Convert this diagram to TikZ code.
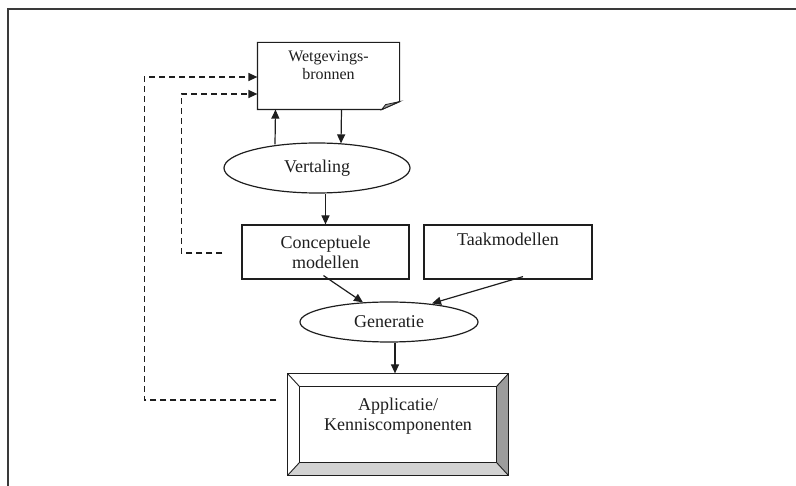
\documentclass[tikz,border=0pt]{standalone}
\usepackage{fontspec}
\setmainfont{Liberation Serif}
\usetikzlibrary{arrows.meta,calc,shapes.geometric}
\definecolor{ink}{HTML}{1E1E1E}
\definecolor{frameink}{HTML}{3A3A3A}
\definecolor{darkface}{HTML}{9C9C9C}
\definecolor{lightface}{HTML}{D2D2D2}
\tikzset{
  arr/.style={line width=1.2pt, draw=ink, -{Triangle[length=9pt,width=8pt]}},
  dasharr/.style={arr, dash pattern=on 6pt off 4pt},
  boxnode/.style={draw=ink, line width=1.2pt, rectangle, align=center, inner sep=0pt,
     font=\fontsize{18}{20}\selectfont, text=ink},
  ellnode/.style={draw=ink, line width=1.2pt, ellipse, inner sep=0pt, align=center,
     font=\fontsize{18}{20}\selectfont, text=ink},
}
\begin{document}
\begin{tikzpicture}[x=1pt,y=-1pt]
\useasboundingbox (0,0) rectangle (796,486);
% frame (top and left edges only)
\draw[line width=1.6pt, frameink] (8,486) -- (8,9) -- (796,9);

% Wetgevingsbronnen (folded-corner sheet)
\node[boxnode, draw=none, minimum width=141pt, minimum height=66pt,
      font=\fontsize{16}{18}\selectfont] (w) at (328.5,76) {Wetgevings-\\bronnen\\[-2pt]\strut};
\draw[line width=1.2pt, ink] (w.north west) -- (w.north east) -- ($(w.south east)+(0,-8)$)
  -- ($(w.south east)+(-18,0)$) -- (w.south west) -- cycle;
\filldraw[line width=0.8pt, draw=ink, fill=darkface] ($(w.south east)+(-18,0)$)
  -- ($(w.south east)+(-14,-5)$) -- ($(w.south east)+(0,-8)$) -- cycle;

% Vertaling
\node[ellnode, minimum width=186pt, minimum height=50pt] (v) at (317,168) {Vertaling};

% Conceptuele modellen, Taakmodellen
\node[boxnode, minimum width=167pt, minimum height=54pt] (c) at (325.5,252) {Conceptuele\\modellen};
\node[boxnode, minimum width=168pt, minimum height=54pt] (t) at (508,252) {Taakmodellen\\\strut};

% Generatie
\node[ellnode, minimum width=178pt, minimum height=40pt] (g) at (389,322) {Generatie};

% Applicatie / Kenniscomponenten (bevelled frame)
\node[boxnode, draw=none, minimum width=220pt, minimum height=101pt] (a) at (398,424.5) {Applicatie/\\Kenniscomponenten\\[-6pt]\strut};
\coordinate (ai1) at ($(a.north west)+(12,13)$);
\coordinate (ai2) at ($(a.north east)+(-12,13)$);
\coordinate (ai3) at ($(a.south east)+(-12,-13)$);
\coordinate (ai4) at ($(a.south west)+(12,-13)$);
\fill[darkface] (a.north east) -- (a.south east) -- (ai3) -- (ai2) -- cycle;
\fill[lightface] (a.south west) -- (a.south east) -- (ai3) -- (ai4) -- cycle;
\draw[line width=1.2pt, ink] (a.north west) rectangle (a.south east);
\draw[line width=1.2pt, ink] (ai1) -- (ai2) -- (ai3) -- (ai4) -- cycle;
\draw[line width=0.9pt, ink] (a.north west) -- (ai1) (a.north east) -- (ai2)
  (a.south east) -- (ai3) (a.south west) -- (ai4);

% solid connectors
\draw[arr] ([xshift=-42pt,yshift=-2pt]v.north) -- ([xshift=-53pt]w.south);
\draw[arr] ([xshift=13pt]w.south) -- ([xshift=24pt,yshift=-1pt]v.north);
\draw[arr] (v.south -| c.north) -- (c.north);
\draw[arr] ($(c.south)+(-2,-4)$) -- ($(g.north)+(-26,1)$);
\draw[arr] ($(t.south)+(15,-3)$) -- ($(g.north)+(43,2)$);
\draw[arr] ($(g.south)+(6,0)$) -- ($(a.north)+(-3,0)$);

% dashed feedback connectors
\coordinate (aout) at ($(a.west)+(-11,-24.5)$);
\coordinate (cout) at ($(c.west)+(-19,1)$);
\draw[dasharr] (aout) -- ++(-132,0) |- ($(w.west)+(0,1)$);
\draw[dasharr] (cout) -- ++(-41,0) |- ($(w.west)+(0,18)$);
\end{tikzpicture}
\end{document}
